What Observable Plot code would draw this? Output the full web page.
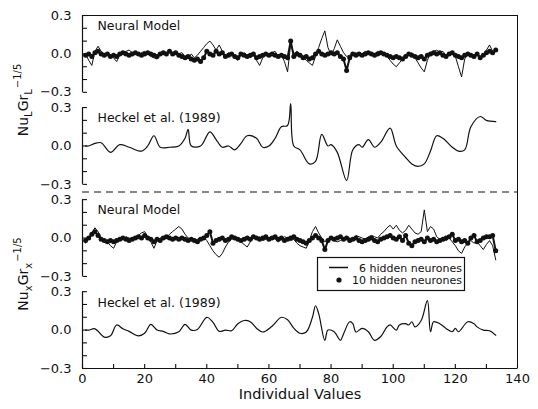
<!DOCTYPE html>
<html><head><meta charset="utf-8">
<script src="https://cdn.jsdelivr.net/npm/d3@7"></script>
<script src="https://cdn.jsdelivr.net/npm/@observablehq/plot@0.6"></script>
<style>
html,body{margin:0;padding:0;background:#fff;}
#chart svg{display:block;}
</style></head><body><div id="chart"></div>
<script>
// ---------- data ----------
const individualValues = Array.from({length: 133}, (_, j) => j + 1);

// Nu_L Gr_L^-1/5 : neural model, 6 hidden neurones (line)
const neuralL6 = [0.00,-0.05,-0.09,0.02,0.06,0.02,0.00,0.01,-0.01,-0.03,
 -0.06,-0.01,0.01,0.02,0.03,0.01,0.00,-0.01,0.01,0.02,
 0.00,-0.02,-0.03,-0.04,0.01,0.02,0.01,0.03,0.01,0.02,
 0.00,0.01,-0.02,-0.04,0.00,-0.03,-0.01,0.02,0.05,0.08,
 0.10,0.07,0.03,0.07,0.02,-0.02,0.01,0.00,-0.03,-0.05,
 -0.01,0.01,-0.01,-0.03,-0.01,-0.05,-0.09,-0.03,0.00,-0.01,
 0.01,0.02,-0.02,-0.01,-0.06,-0.14,0.08,0.00,0.02,0.00,
 -0.02,-0.05,-0.07,-0.09,-0.02,0.05,0.12,0.18,0.05,-0.01,
 0.04,0.11,0.06,0.01,-0.02,-0.01,0.00,0.01,-0.01,0.00,
 0.02,0.01,-0.01,0.00,0.02,0.01,-0.01,-0.02,-0.05,-0.08,
 -0.10,-0.07,-0.04,-0.03,-0.01,0.01,-0.03,-0.07,-0.11,-0.14,
 -0.05,0.01,0.02,0.03,0.01,0.02,-0.01,0.00,0.01,-0.02,
 -0.10,-0.18,-0.04,0.01,0.00,-0.02,-0.01,-0.03,-0.01,0.03,
 0.07,0.02,0.03];
// neural model, 10 hidden neurones (dots)
const neuralL10 = [-0.01,0.00,-0.02,0.01,0.02,0.00,-0.01,0.00,-0.02,-0.01,
 -0.02,0.00,0.01,0.00,-0.01,0.00,0.01,0.00,-0.01,0.00,
 0.01,0.00,-0.01,-0.02,0.00,0.01,0.00,0.02,0.00,0.01,
 -0.01,-0.02,-0.03,-0.02,-0.04,-0.05,-0.04,-0.06,-0.03,0.02,
 0.00,-0.01,0.02,0.00,0.01,-0.02,-0.01,0.00,-0.02,-0.03,
 0.00,-0.01,-0.02,-0.01,0.00,-0.03,-0.02,-0.01,0.00,-0.01,
 0.00,-0.01,-0.02,-0.01,-0.02,-0.03,0.10,-0.02,0.00,-0.01,
 -0.03,-0.02,-0.04,-0.03,0.00,0.02,0.00,-0.01,0.00,0.01,
 0.00,0.01,-0.02,-0.04,-0.13,-0.03,0.00,-0.01,0.00,-0.01,
 0.00,0.01,0.00,-0.01,0.00,0.01,0.00,-0.01,-0.02,-0.03,
 -0.02,-0.03,-0.04,-0.02,0.00,-0.01,-0.02,-0.03,-0.02,-0.04,
 -0.01,0.00,0.01,0.00,0.01,-0.01,-0.02,0.00,0.01,-0.01,
 -0.02,-0.03,-0.01,0.00,-0.01,-0.02,0.00,-0.03,-0.01,0.01,
 0.02,0.01,0.03];
// Heckel et al. (1989), Nu_L
const heckelLIndex = [1,2,4,6,9,12,15,19,21,23,25,28,31,33,34,35,38,41,43,45,47,49,51,53,56,58,60,62,64,66,67,68,70,73,75,77,79,80,82,85,87,89,90,92,94,96,99,101,104,106,108,110,112,114,116,119,121,123,125,128,130,133];
const heckelLValue = [0.00,0.00,0.02,0.025,-0.05,0.01,-0.01,-0.04,0.00,0.08,-0.01,-0.01,0.00,0.06,0.13,0.00,0.00,0.11,0.05,-0.01,0.00,-0.03,0.02,0.08,0.06,-0.01,0.00,0.06,0.15,0.16,0.33,0.00,-0.03,-0.14,-0.12,0.09,0.00,0.01,-0.05,-0.27,-0.03,0.01,-0.01,0.05,-0.01,0.03,0.14,0.00,-0.09,-0.14,-0.16,-0.14,-0.04,0.08,0.06,-0.01,-0.04,-0.03,0.15,0.23,0.20,0.19];

// Nu_x Gr_x^-1/5 : neural model, 6 hidden neurones (line)
const neuralX6 = [-0.04,0.00,0.04,0.08,0.05,0.00,-0.01,-0.03,-0.06,-0.08,
 -0.03,0.00,-0.01,0.01,0.00,-0.01,0.01,0.02,0.04,0.05,
 0.01,-0.03,-0.08,-0.02,0.00,0.01,0.00,0.03,0.05,0.07,
 0.09,0.07,0.03,0.00,-0.01,-0.02,-0.01,0.00,0.01,-0.02,
 -0.06,-0.10,-0.13,-0.15,-0.12,-0.07,-0.03,-0.01,0.00,-0.02,
 -0.03,-0.05,-0.07,-0.03,0.00,-0.01,0.01,-0.02,-0.01,0.00,
 0.01,-0.01,-0.03,-0.01,0.01,0.00,-0.02,-0.01,-0.04,-0.06,
 -0.07,-0.08,-0.02,0.05,0.09,0.04,0.00,-0.03,-0.01,0.00,
 -0.02,-0.03,-0.02,0.00,0.01,0.00,-0.01,0.02,0.01,0.00,
 -0.01,0.01,0.02,0.01,0.00,0.03,0.05,0.08,0.10,0.07,
 0.10,0.06,0.04,0.06,0.10,0.07,0.04,0.03,0.05,0.22,
 0.05,0.09,0.07,0.01,-0.01,0.00,-0.02,0.00,-0.03,-0.06,
 -0.10,-0.12,-0.07,-0.04,-0.02,-0.04,-0.03,-0.06,-0.09,-0.05,
 -0.02,-0.06,-0.17];
// neural model, 10 hidden neurones (dots)
const neuralX10 = [-0.02,0.00,0.03,0.05,0.02,-0.01,-0.02,-0.03,-0.02,-0.03,
 -0.02,-0.01,0.00,-0.01,-0.02,-0.01,0.00,0.01,0.00,0.02,
 0.00,-0.01,-0.03,-0.01,-0.02,0.00,0.01,0.00,-0.01,0.00,
 -0.01,0.00,-0.01,-0.02,-0.01,-0.02,-0.03,-0.01,0.00,0.02,
 0.05,-0.04,-0.02,-0.01,0.00,-0.02,-0.01,0.01,0.00,-0.01,
 -0.02,-0.01,0.00,-0.01,0.01,0.00,-0.01,0.00,0.01,-0.01,
 0.00,0.01,-0.01,0.00,-0.02,-0.01,0.00,0.01,-0.01,-0.02,
 -0.03,-0.04,-0.02,0.00,0.02,0.00,-0.02,-0.09,-0.02,0.00,
 -0.01,0.00,0.01,-0.01,0.00,-0.02,-0.01,0.00,-0.02,-0.03,
 -0.02,-0.01,0.00,-0.02,-0.03,-0.01,0.00,0.01,0.02,0.00,
 -0.01,0.01,-0.02,0.02,-0.04,-0.06,-0.03,-0.02,-0.01,-0.03,
 0.00,-0.02,-0.01,-0.03,-0.02,-0.01,0.00,0.01,0.03,-0.02,
 -0.01,-0.03,-0.02,-0.04,0.00,0.02,-0.03,-0.02,0.00,0.01,
 0.01,0.02,-0.10];
// Heckel et al. (1989), Nu_x
const heckelXIndex = [1,2,4,7,9,11,13,15,18,20,22,24,26,28,31,33,35,37,40,42,44,46,48,50,52,54,56,58,61,64,66,68,70,72,74,75,76,78,79,81,83,84,86,87,88,90,92,94,96,98,99,101,102,104,105,106,107,109,111,112,113,115,117,119,120,121,124,126,127,129,131,133];
const heckelXValue = [0.00,0.00,0.01,-0.055,-0.045,0.04,0.01,-0.01,-0.045,-0.025,0.045,0.00,-0.01,-0.03,-0.013,0.045,0.00,0.005,0.10,0.06,-0.01,0.00,-0.005,0.05,0.075,0.065,0.015,-0.015,0.03,0.10,0.08,0.015,-0.025,-0.015,0.10,0.19,0.13,-0.08,0.00,-0.013,-0.08,-0.03,0.065,0.05,-0.015,0.013,-0.013,-0.08,-0.05,0.025,0.04,0.00,0.04,0.05,0.04,0.065,0.025,0.075,0.23,-0.013,0.065,0.05,0.013,-0.013,0.013,-0.013,0.065,0.05,0.025,0.00,-0.005,-0.04];

const panelTitles = ["Neural Model", "Heckel et al. (1989)", "Neural Model", "Heckel et al. (1989)"];
const yTickSteps = [0.3, 0.2, 0.1, 0.0, -0.1, -0.2, -0.3];
const yLabelSteps = [0.3, 0.0, -0.3];
const yLabelText = ["0.3", "0.0", "\u22120.3"];
const xTicksMinor = [0,10,20,30,40,50,60,70,80,90,100,110,120,130,140];
const xTicksMajor = [0,20,40,60,80,100,120,140];
const legendLabels = ["6 hidden neurones", "10 hidden neurones"];

// ---------- layout of the four stacked panels on one y scale ----------
const half = 0.3;
const panelGap = 0.119;
const center = k => -half - k * (2 * half + panelGap);
const yBottom = center(3) - half;
const sepY = ((center(1) - half) + (center(2) + half)) / 2;

const rowsL = individualValues.map((i, j) => ({i, a: neuralL6[j], b: neuralL10[j]}));
const rowsX = individualValues.map((i, j) => ({i, a: neuralX6[j], b: neuralX10[j]}));
const rowsHL = heckelLIndex.map((i, j) => ({i, v: heckelLValue[j]}));
const rowsHX = heckelXIndex.map((i, j) => ({i, v: heckelXValue[j]}));

const panels = [0, 1, 2, 3];
const yTicks = panels.flatMap(k => yTickSteps.map(t => center(k) + t));
const yLabels = panels.flatMap(k => yLabelSteps.map(t => center(k) + t));
const yLabelStrings = panels.flatMap(() => yLabelText);
const titles = panelTitles.map((t, k) => ({k, t}));

const ink = "#111";
const font = "DejaVu Sans";

// inward tick shapes
const tickRight = {draw(ctx) { ctx.moveTo(0, 0); ctx.lineTo(4.5, 0); }};
const tickUp = {draw(ctx) { ctx.moveTo(0, 0); ctx.lineTo(0, -4.5); }};

const plot = Plot.plot({
  width: 538, height: 409,
  marginLeft: 82, marginRight: 21, marginTop: 15, marginBottom: 41,
  style: {fontFamily: font, fontSize: "12px", color: ink, background: "#fff"},
  x: {domain: [0, 140]},
  y: {domain: [yBottom, 0]},
  marks: [
    // frame pieces
    Plot.ruleY([0], {stroke: ink, strokeWidth: 1.2}),
    Plot.ruleY([yBottom], {stroke: ink, strokeWidth: 1.2}),
    Plot.ruleX([140], {stroke: ink, strokeWidth: 1}),
    Plot.ruleX(panels, {x: () => 0, y1: k => center(k) + half, y2: k => center(k) - half, stroke: ink, strokeWidth: 1.2}),
    Plot.ruleY([sepY], {stroke: ink, strokeWidth: 1.2, strokeDasharray: "7,5"}),
    // inward ticks
    Plot.dot(yTicks, {x: () => 0, y: d => d, symbol: tickRight, stroke: ink, strokeWidth: 1.1, fill: "none"}),
    Plot.dot(xTicksMinor, {x: d => d, y: () => yBottom, symbol: tickUp, stroke: ink, strokeWidth: 1.1, fill: "none"}),
    // tick labels
    Plot.axisY({ticks: yLabels, tickSize: 0, tickPadding: 11, tickFormat: (d, i) => yLabelStrings[i], label: null, fontSize: 13}),
    Plot.axisX({ticks: xTicksMajor, tickSize: 0, tickPadding: 5, label: null, fontSize: 13}),
    Plot.text(["Individual Values"], {frameAnchor: "bottom", dy: 30, fontSize: 14.5, fill: ink, letterSpacing: 1}),
    // panel titles
    Plot.text(titles, {frameAnchor: "left", dx: 15, dy: 6, y: d => center(d.k) + half, text: "t", textAnchor: "start", lineAnchor: "top", fontSize: 12.5, fill: ink, style: "word-spacing: 3px"}),
    // data: panel 1 (Nu_L, neural)
    Plot.line(rowsL, {x: "i", y: d => d.b + center(0), stroke: ink, strokeWidth: 2}),
    Plot.dot(rowsL, {x: "i", y: d => d.b + center(0), r: 2.5, fill: ink}),
    Plot.line(rowsL, {x: "i", y: d => d.a + center(0), stroke: ink, strokeWidth: 1}),
    // panel 2 (Nu_L, Heckel)
    Plot.line(rowsHL, {x: "i", y: d => d.v + center(1), stroke: ink, strokeWidth: 1.2, curve: "catmull-rom"}),
    // panel 3 (Nu_x, neural)
    Plot.line(rowsX, {x: "i", y: d => d.b + center(2), stroke: ink, strokeWidth: 2}),
    Plot.dot(rowsX, {x: "i", y: d => d.b + center(2), r: 2.5, fill: ink}),
    Plot.line(rowsX, {x: "i", y: d => d.a + center(2), stroke: ink, strokeWidth: 1}),
    // panel 4 (Nu_x, Heckel)
    Plot.line(rowsHX, {x: "i", y: d => d.v + center(3), stroke: ink, strokeWidth: 1.2, curve: "catmull-rom"})
  ]
});

document.getElementById("chart").appendChild(plot);

// ---------- y axis titles with sub/superscripts ----------
const svg = d3.select(plot);
function yTitle(cx, cy, sub) {
  const t = svg.append("text")
    .attr("transform", `translate(${cx},${cy}) rotate(-90)`)
    .attr("text-anchor", "middle")
    .attr("fill", ink)
    .style("font-family", font)
    .style("font-size", "14px");
  t.append("tspan").text("Nu");
  t.append("tspan").attr("dy", 4).style("font-size", "10px").text(sub);
  t.append("tspan").attr("dy", -4).text("Gr");
  t.append("tspan").attr("dy", 4).style("font-size", "10px").text(sub);
  t.append("tspan").attr("dy", -11).attr("dx", 1).style("font-size", "10px").text("\u22121/5");
}
yTitle(28, 100, "L");
yTitle(28, 274, "x");

// ---------- legend ----------
const lg = svg.append("g").style("font-family", font).style("font-size", "11px");
lg.append("rect").attr("x", 317.5).attr("y", 257.5).attr("width", 147).attr("height", 33)
  .attr("fill", "#fff").attr("stroke", ink).attr("stroke-width", 1.2);
lg.append("line").attr("x1", 329).attr("x2", 348).attr("y1", 267.5).attr("y2", 267.5)
  .attr("stroke", ink).attr("stroke-width", 1.5);
lg.append("text").attr("x", 462).attr("y", 271.5).attr("text-anchor", "end").attr("fill", ink).text(legendLabels[0]);
lg.append("circle").attr("cx", 339).attr("cy", 280).attr("r", 2.6).attr("fill", ink);
lg.append("text").attr("x", 462).attr("y", 284).attr("text-anchor", "end").attr("fill", ink).text(legendLabels[1]);
</script>
</body></html>
